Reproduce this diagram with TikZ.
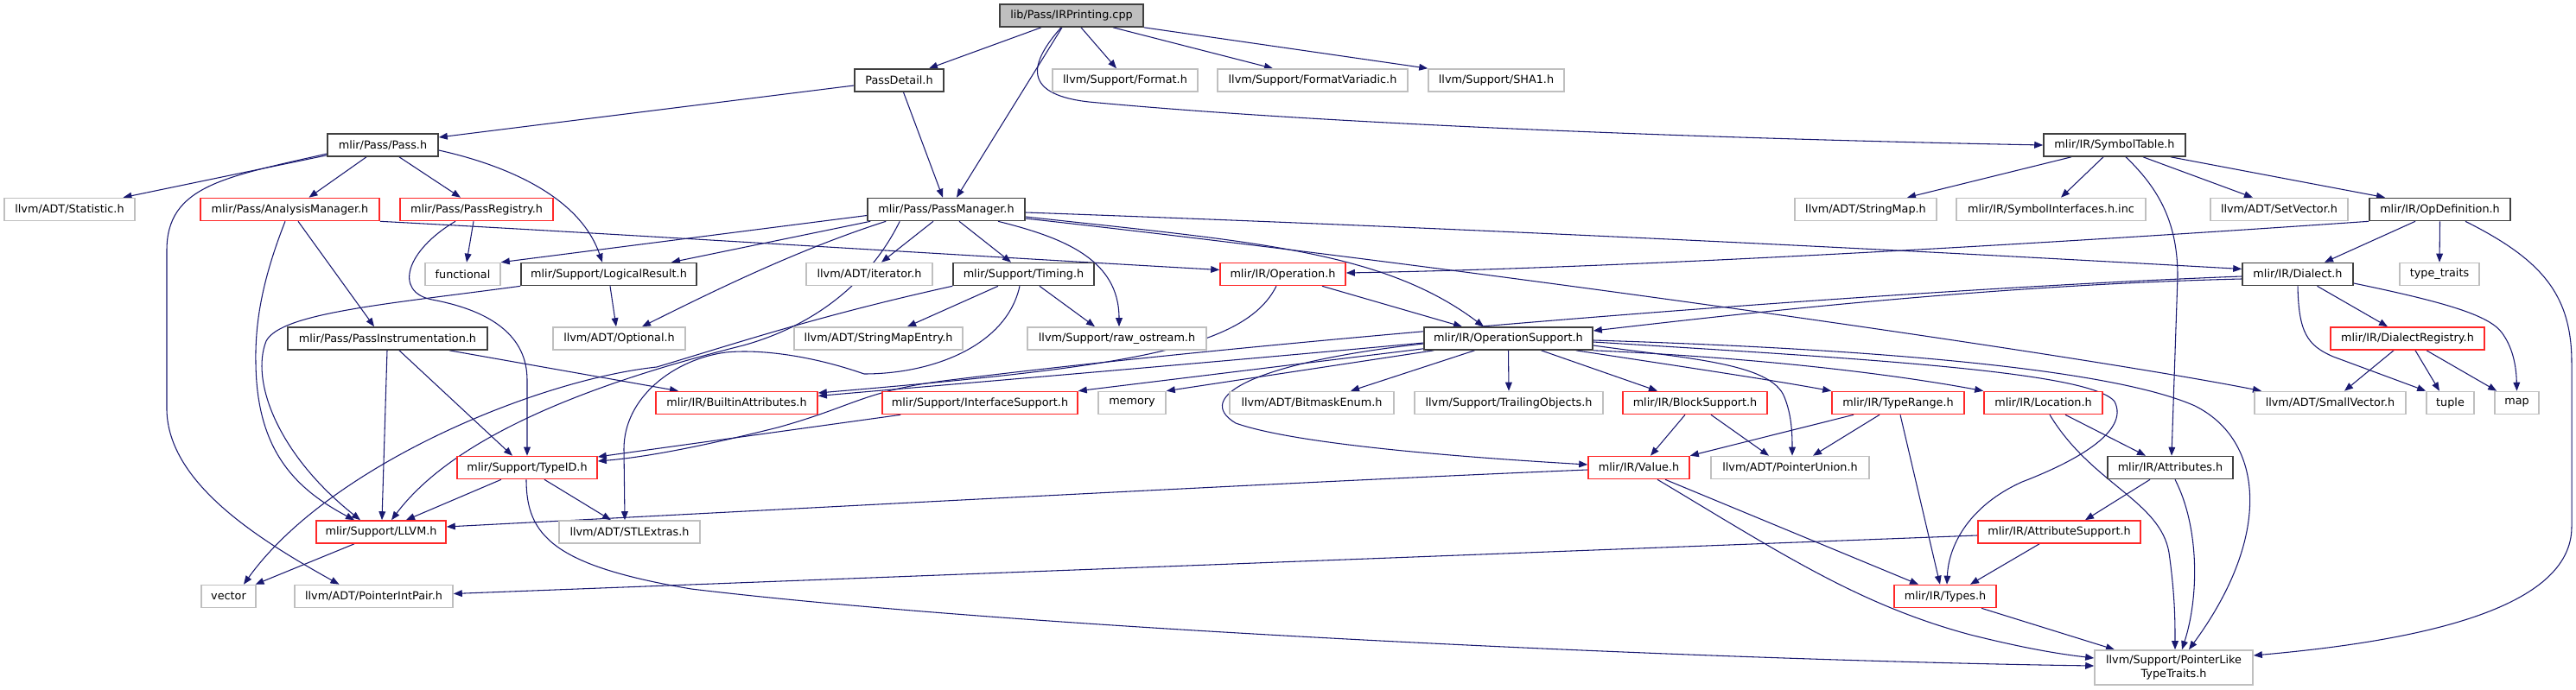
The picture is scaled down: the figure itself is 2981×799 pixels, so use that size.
\documentclass[tikz,border=0pt]{standalone}
\usepackage{fontspec}
\setmainfont{DejaVu Sans}
\usetikzlibrary{calc,arrows.meta}
\definecolor{edgec}{RGB}{25,25,112}
\definecolor{grayb}{RGB}{191,191,191}
\definecolor{darkb}{RGB}{64,64,64}
\definecolor{redb}{RGB}{255,40,40}
\pgfdeclarelayer{bg}
\pgfsetlayers{bg,main}
\tikzset{
  box/.style={rectangle, minimum height=19.5pt, inner sep=0pt, fill=white, text=black,
    line width=1.2pt, font=\fontsize{9.6}{11.5}\selectfont},
  nb/.style={box, draw=darkb},
  nr/.style={box, draw=redb},
  ng/.style={box, draw=grayb},
  W/.style={minimum width=#1*0.75pt},
  e/.style={draw=edgec, line width=0.8pt, -{Triangle[length=7.5pt,width=5.8pt]}},
}
\begin{document}
\begin{tikzpicture}[x=0.75pt,y=-0.75pt]
\useasboundingbox (0,0) rectangle (2981,799);
% row 0
\node[nb,W=166,fill=grayb] (root) at (1240,18) {lib/Pass/IRPrinting.cpp};
% row 1
\node[nb,W=103] (pdetail) at (1040.5,93) {PassDetail.h};
\node[ng,W=168] (fmt) at (1302,93) {llvm/Support/Format.h};
\node[ng,W=220] (fmtv) at (1519,93) {llvm/Support/FormatVariadic.h};
\node[ng,W=157] (sha) at (1731.5,93) {llvm/Support/SHA1.h};
% row 2
\node[nb,W=128] (pass) at (443,168) {mlir/Pass/Pass.h};
\node[nb,W=164] (symtab) at (2447,168) {mlir/IR/SymbolTable.h};
% row 3
\node[ng,W=151] (stat) at (80.5,242.5) {llvm/ADT/Statistic.h};
\node[nr,W=207] (anal) at (335.5,242.5) {mlir/Pass/AnalysisManager.h};
\node[nr,W=177] (preg) at (551.5,242.5) {mlir/Pass/PassRegistry.h};
\node[nb,W=182] (pm) at (1095,242.5) {mlir/Pass/PassManager.h};
\node[ng,W=164] (strmap) at (2159,242.5) {llvm/ADT/StringMap.h};
\node[ng,W=219] (syminc) at (2373.5,242.5) {mlir/IR/SymbolInterfaces.h.inc};
\node[ng,W=159] (setvec) at (2637.5,242.5) {llvm/ADT/SetVector.h};
\node[nb,W=163] (opdef) at (2823.5,242.5) {mlir/IR/OpDefinition.h};
% row 4
\node[ng,W=87] (func) at (535.5,317.5) {functional};
\node[nb,W=203] (logres) at (704.5,317.5) {mlir/Support/LogicalResult.h};
\node[ng,W=146] (iter) at (1006,317.5) {llvm/ADT/iterator.h};
\node[nb,W=163] (timing) at (1184.5,317.5) {mlir/Support/Timing.h};
\node[nr,W=145] (oper) at (1484.5,317.5) {mlir/IR/Operation.h};
\node[nb,W=128] (dialect) at (2659,317.5) {mlir/IR/Dialect.h};
\node[ng,W=92] (ttraits) at (2823,317.5) {type\_traits};
% row 5
\node[nb,W=231] (pinst) at (448.5,392) {mlir/Pass/PassInstrumentation.h};
\node[ng,W=153] (opt) at (716.5,392) {llvm/ADT/Optional.h};
\node[ng,W=195] (sme) at (1016.5,392) {llvm/ADT/StringMapEntry.h};
\node[ng,W=207] (rawos) at (1292.5,392) {llvm/Support/raw\_ostream.h};
\node[nb,W=195] (opsup) at (1745.5,392) {mlir/IR/OperationSupport.h};
\node[nr,W=178] (dreg) at (2786,392) {mlir/IR/DialectRegistry.h};
% row 6
\node[nr,W=187] (batt) at (852.5,466.5) {mlir/IR/BuiltinAttributes.h};
\node[nr,W=226] (isup) at (1134,466.5) {mlir/Support/InterfaceSupport.h};
\node[ng,W=78] (mem) at (1310,466.5) {memory};
\node[ng,W=190] (bme) at (1518,466.5) {llvm/ADT/BitmaskEnum.h};
\node[ng,W=218] (trail) at (1746,466.5) {llvm/Support/TrailingObjects.h};
\node[nr,W=167] (bsup) at (1961.5,466.5) {mlir/IR/BlockSupport.h};
\node[nr,W=153] (trange) at (2196.5,466.5) {mlir/IR/TypeRange.h};
\node[nr,W=137] (loc) at (2364.5,466.5) {mlir/IR/Location.h};
\node[ng,W=175] (svec) at (2696.5,466.5) {llvm/ADT/SmallVector.h};
\node[ng,W=55] (tuple) at (2835.5,466.5) {tuple};
\node[ng,W=51] (map) at (2912.5,466.5) {map};
% row 7
\node[nr,W=162] (typeid) at (610,541.5) {mlir/Support/TypeID.h};
\node[ng,W=183] (punion) at (2071.5,541.5) {llvm/ADT/PointerUnion.h};
\node[nr,W=117] (value) at (1896.5,541.5) {mlir/IR/Value.h};
\node[nb,W=145] (attrs) at (2511.5,541.5) {mlir/IR/Attributes.h};
% row 8
\node[nr,W=150] (llvm) at (441,616) {mlir/Support/LLVM.h};
\node[ng,W=163] (stlx) at (728.5,616) {llvm/ADT/STLExtras.h};
\node[nr,W=188] (asup) at (2383,616) {mlir/IR/AttributeSupport.h};
% row 9
\node[ng,W=63] (vector) at (264.5,690.5) {vector};
\node[ng,W=183] (pip) at (432.5,690.5) {llvm/ADT/PointerIntPair.h};
\node[nr,W=118] (types) at (2251,690.5) {mlir/IR/Types.h};
% row 10
\node[ng,W=183,minimum height=30pt,align=center] (plt) at (2515.5,773) {llvm/Support/PointerLike\\TypeTraits.h};

\begin{pgfonlayer}{bg}
% root
\draw[e] ($(root.south)+(-35,0)$) -- ($(pdetail.north)+(34.5,0)$);
\draw[e] ($(root.south)+(-11,0)$) -- ($(pm.north)+(12,0)$);
\draw[e] ($(root.south)+(11,0)$) -- ($(fmt.north)+(-10,0)$);
\draw[e] ($(root.south)+(48,0)$) -- ($(fmtv.north)+(-46,0)$);
\draw[e] (root.south east) -- (sha.north west);
\draw[e] ($(root.south)+(-12,0)$) .. controls (1185,80) and (1190,110) .. (1260,118) .. controls (1600,150) and (2150,164) .. (symtab.west);
% PassDetail
\draw[e] ($(pdetail.west)+(0,6)$) -- ($(pass.east)+(0,-9)$);
\draw[e] ($(pdetail.south)+(5,0)$) -- ($(pm.north)+(-4,0)$);
% Pass.h
\draw[e] ($(pass.south west)+(0,-2)$) -- ($(stat.north)+(62,0)$);
\draw[e] ($(pass.south west)+(1,-4)$) .. controls (260,205) and (193,215) .. (193,290) -- (193,475) .. controls (195,560) and (300,625) .. ($(pip.north)+(-40,0)$);
\draw[e] ($(pass.south)+(-19,0)$) -- ($(anal.north)+(22,0)$);
\draw[e] ($(pass.south)+(19,0)$) -- ($(preg.north)+(-18.5,0)$);
\draw[e] ($(pass.east)+(0,6)$) .. controls (580,190) and (670,225) .. ($(logres.north)+(-7.5,0)$);
% AnalysisManager
\draw[e] ($(anal.south)+(9.5,0)$) -- ($(pinst.north)+(-15.5,0)$);
\draw[e] ($(anal.south)+(-5.5,0)$) .. controls (305,320) and (295,370) .. (296,420) .. controls (297,520) and (340,565) .. ($(llvm.north)+(-31,0)$);
\draw[e] (anal.south east) .. controls (700,270) and (1100,295) .. ($(oper.west)+(0,-5)$);
% PassRegistry
\draw[e] ($(preg.south)+(-3.5,0)$) -- ($(func.north)+(4.5,0)$);
\draw[e] ($(preg.south)+(-24.5,0)$) .. controls (470,290) and (455,338) .. (500,347) .. controls (570,360) and (610,390) .. (610,440) -- (typeid.north);
% PassInstrumentation
\draw[e] ($(pinst.south)+(71.5,0)$) -- ($(batt.north)+(-67.5,0)$);
\draw[e] ($(pinst.south)+(13.5,0)$) -- ($(typeid.north)+(-17,0)$);
\draw[e] ($(pinst.south)+(-0.5,0)$) -- ($(llvm.north)+(1,0)$);
% LogicalResult
\draw[e] ($(logres.south)+(1.5,0)$) -- ($(opt.north)+(-3.5,0)$);
\draw[e] (logres.south west) .. controls (450,352) and (325,362) .. (308,395) .. controls (290,440) and (320,525) .. ($(llvm.north)+(-24,0)$);
% PassManager
\draw[e] ($(pm.west)+(0,7)$) -- (func.north east);
\draw[e] ($(pm.south west)+(4,0)$) -- ($(logres.north)+(72.5,0)$);
\draw[e] ($(pm.south west)+(22,0)$) .. controls (920,290) and (820,340) .. ($(opt.north)+(26.5,0)$);
\draw[e] ($(pm.south west)+(38,0)$) .. controls (1010,320) and (950,375) .. (860,400) .. controls (700,440) and (530,500) .. ($(llvm.north)+(12,0)$);
\draw[e] ($(pm.south)+(-15,0)$) -- ($(iter.north)+(14,0)$);
\draw[e] ($(pm.south)+(15,0)$) -- ($(timing.north)+(-14.5,0)$);
\draw[e] ($(pm.south)+(60,0)$) .. controls (1230,275) and (1295,300) .. ($(rawos.north)+(2.5,0)$);
\draw[e] ($(pm.east)+(0,8.5)$) .. controls (1450,280) and (1600,290) .. ($(opsup.north)+(-28.5,0)$);
\draw[e] ($(pm.east)+(0,10.5)$) .. controls (1700,310) and (2400,410) .. ($(svec.north)+(-79.5,0)$);
\draw[e] ($(pm.east)+(0,3.5)$) .. controls (1800,268) and (2300,295) .. ($(dialect.west)+(0,-6)$);
% Timing
\draw[e] ($(timing.south)+(-29.5,0)$) -- ($(sme.north)+(33.5,0)$);
\draw[e] ($(timing.south)+(18.5,0)$) -- ($(rawos.north)+(-25.5,0)$);
\draw[e] (timing.south west) .. controls (950,365) and (860,395) .. (760,425) .. controls (620,440) and (380,540) .. ($(vector.north)+(17.5,0)$);
\draw[e] ($(timing.south)+(-4.5,0)$) .. controls (1165,400) and (1080,433) .. (1000,433) .. controls (940,412) and (880,404) .. (840,408) .. controls (780,416) and (722,460) .. (722,520) -- ($(stlx.north)+(-5.5,0)$);
% Operation
\draw[e] ($(oper.south)+(-7.5,0)$) .. controls (1440,405) and (1300,425) .. ($(batt.east)+(0,-11.5)$);
\draw[e] ($(oper.south)+(45.5,0)$) -- ($(opsup.north)+(-53.5,0)$);
% OpDefinition
\draw[e] (opdef.south west) .. controls (2400,280) and (1900,310) .. ($(oper.east)+(0,-1.5)$);
\draw[e] ($(opdef.south)+(-28.5,0)$) -- ($(dialect.north)+(31,0)$);
\draw[e] (opdef.south) -- (ttraits.north);
\draw[e] ($(opdef.south)+(29.5,0)$) .. controls (2940,300) and (2976,340) .. (2976,420) -- (2976,610) .. controls (2976,705) and (2800,742) .. ($(plt.east)+(0,-14)$);
% SymbolTable
\draw[e] ($(symtab.south)+(-50,0)$) -- ($(strmap.north)+(48,0)$);
\draw[e] ($(symtab.south)+(-13,0)$) -- ($(syminc.north)+(11.5,0)$);
\draw[e] ($(symtab.south)+(33,0)$) -- ($(setvec.north)+(-30.5,0)$);
\draw[e] ($(symtab.south)+(65,0)$) -- ($(opdef.north)+(-63.5,0)$);
\draw[e] ($(symtab.south)+(13,0)$) .. controls (2500,220) and (2520,260) .. (2520,320) -- ($(attrs.north)+(1.5,0)$);
% Dialect
\draw[e] ($(dialect.west)+(0,5.5)$) .. controls (2300,330) and (2000,365) .. ($(opsup.east)+(0,-9)$);
\draw[e] ($(dialect.west)+(0,2.5)$) .. controls (2200,335) and (1500,390) .. (1100,440) .. controls (1000,452) and (990,470) .. (900,495) .. controls (800,520) and (740,530) .. ($(typeid.east)+(0,-7.5)$);
\draw[e] ($(dialect.south)+(22.5,0)$) -- ($(dreg.north)+(-23,0)$);
\draw[e] (dialect.south) .. controls (2660,385) and (2670,400) .. (2700,413) -- (tuple.north west);
\draw[e] ($(dialect.east)+(0,10.5)$) .. controls (2830,350) and (2880,365) .. (2895,385) .. controls (2910,405) and (2912,430) .. (map.north);
% DialectRegistry
\draw[e] ($(dreg.south)+(-16,0)$) -- ($(svec.north)+(16.5,0)$);
\draw[e] ($(dreg.south)+(9,0)$) -- ($(tuple.north)+(-12.5,0)$);
\draw[e] ($(dreg.south)+(22,0)$) -- ($(map.north west)+(3,0)$);
% OperationSupport
\draw[e] ($(opsup.west)+(0,5)$) .. controls (1400,420) and (1100,445) .. ($(batt.east)+(0,-8)$);
\draw[e] ($(opsup.south west)+(0,-2)$) -- (isup.north east);
\draw[e] ($(opsup.south west)+(12,0)$) -- (mem.north east);
\draw[e] ($(opsup.south)+(-39,0)$) -- ($(bme.north)+(45,0)$);
\draw[e] (opsup.south) -- (trail.north);
\draw[e] ($(opsup.south)+(38,0)$) -- ($(bsup.north)+(-43.5,0)$);
\draw[e] ($(opsup.south east)+(-20,0)$) .. controls (1950,425) and (2050,440) .. (trange.north west);
\draw[e] (opsup.south east) .. controls (2050,415) and (2200,435) .. (loc.north west);
\draw[e] ($(opsup.east)+(0,8)$) .. controls (1950,415) and (2050,420) .. (2065,460) .. controls (2073,480) and (2074,500) .. ($(punion.north)+(2.5,0)$);
\draw[e] ($(opsup.west)+(0,6)$) .. controls (1450,420) and (1380,460) .. (1430,490) .. controls (1500,515) and (1700,530) .. ($(value.west)+(0,-3.5)$);
\draw[e] ($(opsup.east)+(0,4)$) .. controls (2150,415) and (2420,430) .. (2447,465) .. controls (2465,500) and (2400,535) .. (2340,558) .. controls (2280,585) and (2255,630) .. ($(types.north)+(2,0)$);
\draw[e] ($(opsup.east)+(0,2)$) .. controls (2200,405) and (2450,430) .. (2540,470) .. controls (2620,510) and (2630,620) .. ($(plt.north)+(17.5,0)$);
% InterfaceSupport
\draw[e] ($(isup.south west)+(22,0)$) -- ($(typeid.east)+(0,-12.5)$);
% BlockSupport
\draw[e] ($(bsup.south)+(-11.5,0)$) -- ($(value.north)+(13.5,0)$);
\draw[e] ($(bsup.south)+(18.5,0)$) -- ($(punion.north)+(-24.5,0)$);
% TypeRange
\draw[e] ($(trange.south)+(-21.5,0)$) -- ($(punion.north)+(26.5,0)$);
\draw[e] ($(trange.south)+(2.5,0)$) -- ($(types.north)+(-6,0)$);
\draw[e] ($(trange.south)+(-51.5,0)$) -- (value.north east);
% Location
\draw[e] ($(loc.south)+(25.5,0)$) -- ($(attrs.north)+(-28.5,0)$);
\draw[e] ($(loc.south)+(7.5,0)$) .. controls (2420,560) and (2500,580) .. (2510,640) .. controls (2517,690) and (2517,720) .. ($(plt.north)+(1.5,0)$);
% Value
\draw[e] ($(value.west)+(0,2.5)$) .. controls (1500,558) and (1000,585) .. ($(llvm.east)+(0,-6)$);
\draw[e] ($(value.south)+(30.5,0)$) -- ($(types.north)+(-31,0)$);
\draw[e] ($(value.south)+(21.5,0)$) .. controls (2060,640) and (2150,700) .. (2280,735) .. controls (2340,750) and (2380,757) .. ($(plt.west)+(0,-11)$);
% TypeID
\draw[e] ($(typeid.south)+(-30,0)$) -- ($(llvm.north)+(29,0)$);
\draw[e] ($(typeid.south)+(20,0)$) -- ($(stlx.north)+(-21.5,0)$);
\draw[e] ($(typeid.south)+(-1,0)$) .. controls (609,620) and (640,655) .. (800,682) .. controls (1200,730) and (2000,765) .. ($(plt.west)+(0,-2)$);
% LLVM
\draw[e] ($(llvm.south)+(-31,0)$) -- ($(vector.north)+(31,0)$);
% Attributes
\draw[e] ($(attrs.south)+(-23.5,0)$) -- ($(asup.north)+(30,0)$);
\draw[e] ($(attrs.south)+(5.5,0)$) .. controls (2545,610) and (2545,690) .. ($(plt.north)+(9.5,0)$);
% AttributeSupport
\draw[e] ($(asup.south)+(-23,0)$) -- ($(types.north)+(29,0)$);
\draw[e] ($(asup.west)+(0,4)$) -- ($(pip.east)+(0,-3)$);
% Types
\draw[e] ($(types.south)+(42,0)$) -- ($(plt.north)+(-68.5,0)$);
\end{pgfonlayer}
\end{tikzpicture}
\end{document}
